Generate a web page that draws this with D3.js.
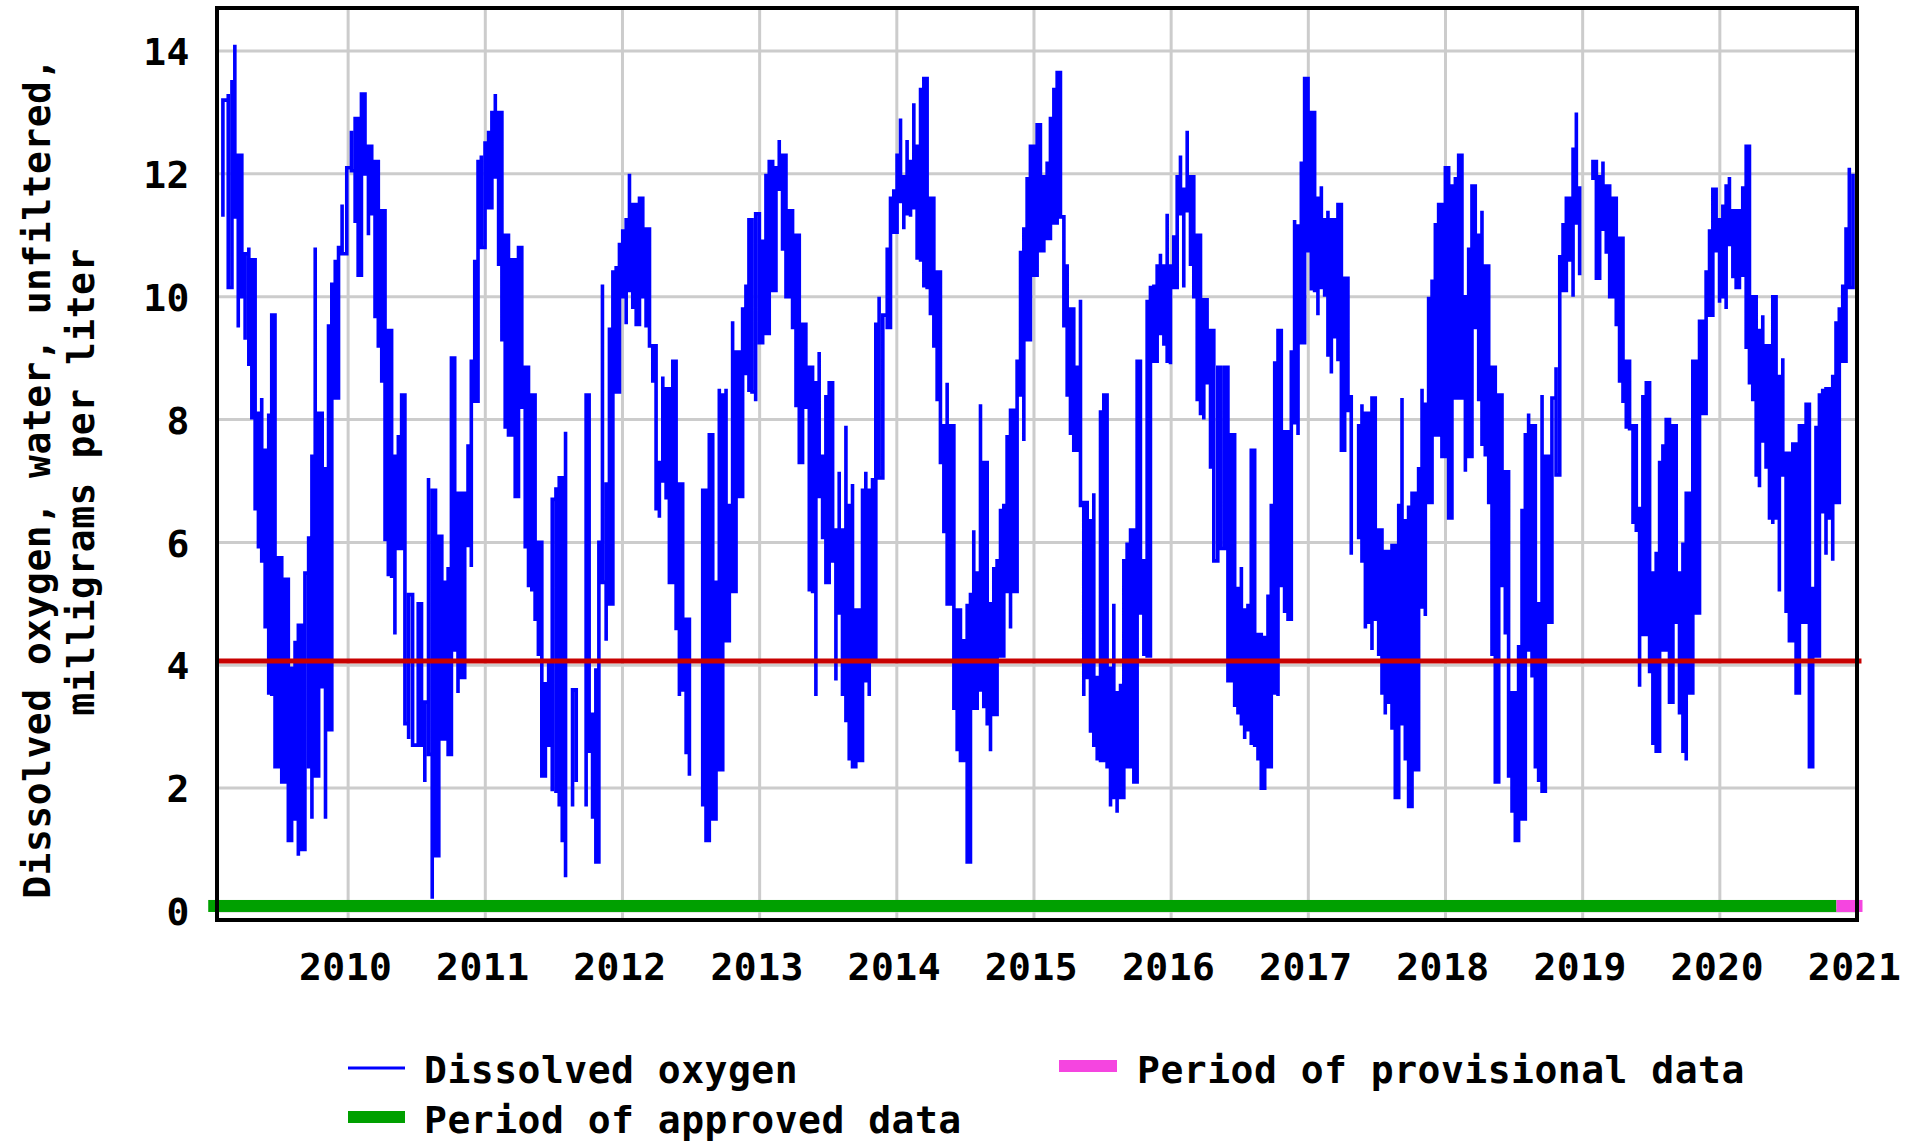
<!DOCTYPE html>
<html><head><meta charset="utf-8">
<script src="https://cdn.jsdelivr.net/npm/d3@7"></script>
<style>
html,body{margin:0;padding:0;background:#fff;}
svg{display:block;}
text{font-family:"DejaVu Sans Mono",monospace;font-weight:bold;fill:#000;}
</style></head><body>
<svg id="chart" width="1906" height="1144"></svg>
<script>
// ---------- data ----------
const yearTicks = [2010, 2011, 2012, 2013, 2014, 2015, 2016, 2017, 2018, 2019, 2020, 2021];
const valueTicks = [0, 2, 4, 6, 8, 10, 12, 14];
const timeDomain = [2009.044, 2021.0];
const valueDomain = [-0.147, 14.70];
const thresholdValue = 4.07;
const approvedPeriod = [2008.98, 2020.85];
const provisionalPeriod = [2020.85, 2021.04];
const yTitleLines = ["Dissolved oxygen, water, unfiltered,", "milligrams per liter"];
const legendLabels = ["Dissolved oxygen", "Period of approved data", "Period of provisional data"];

// [decimal year, min mg/L, max mg/L] per plotted column
const doSamples = [
[2009.087,11.3,13.2],[2009.126,10.15,13.3],[2009.153,10.7,13.5],[2009.174,11.3,14.1],[2009.199,9.5,12.3],[2009.225,10.0,12.3],[2009.249,9.3,10.7],[2009.276,8.9,10.8],[2009.298,8.0,10.6],[2009.322,6.55,9.55],[2009.346,5.9,8.1],[2009.370,5.7,8.35],[2009.395,4.6,7.5],[2009.421,3.55,8.1],[2009.443,3.5,9.7],[2009.467,2.35,9.45],[2009.492,2.35,5.75],[2009.516,2.1,4.15],[2009.540,2.1,5.4],[2009.564,1.15,4.15],[2009.588,1.4,3.95],[2009.613,1.5,4.4],[2009.637,0.9,4.65],[2009.661,1.0,4.4],[2009.685,1.6,5.5],[2009.712,2.35,6.1],[2009.736,1.5,7.4],[2009.760,2.2,10.8],[2009.785,2.35,8.1],[2009.811,3.65,8.0],[2009.835,1.5,7.2],[2009.857,2.95,9.55],[2009.881,8.2,10.2],[2009.906,8.35,10.6],[2009.930,9.65,10.8],[2009.956,10.7,11.5],[2009.990,10.9,12.1],
[2010.024,12.05,12.7],[2010.051,11.2,12.9],[2010.073,10.35,11.8],[2010.097,11.7,13.3],[2010.123,12.0,12.6],[2010.148,11.0,12.45],[2010.172,11.35,12.2],[2010.196,9.65,12.2],[2010.220,9.2,11.35],[2010.245,8.6,11.4],[2010.269,6.05,9.7],[2010.293,5.45,9.45],[2010.317,5.45,8.0],[2010.341,4.5,7.4],[2010.366,5.9,7.75],[2010.390,5.9,8.4],[2010.414,3.05,6.45],[2010.441,2.8,5.15],[2010.470,2.7,3.4],[2010.511,2.7,5.0],[2010.535,2.7,4.75],[2010.559,2.1,3.4],[2010.586,2.55,7.05],[2010.613,0.2,6.85],[2010.637,0.9,6.6],[2010.661,2.8,6.1],[2010.683,2.8,5.5],[2010.705,3.65,5.35],[2010.729,2.55,5.6],[2010.753,3.65,9.0],[2010.777,4.25,5.95],[2010.801,3.55,6.8],[2010.826,3.8,6.8],[2010.850,4.5,6.8],[2010.874,5.95,7.6],[2010.898,5.6,8.95],[2010.923,8.3,10.6],[2010.947,9.85,12.2],[2010.971,10.8,12.3],[2010.998,11.45,12.5],
[2011.024,11.45,12.7],[2011.048,11.9,13.0],[2011.073,11.95,13.3],[2011.097,10.5,13.0],[2011.121,9.3,11.0],[2011.145,7.85,11.0],[2011.169,7.75,10.4],[2011.194,9.55,10.6],[2011.218,6.75,9.8],[2011.242,7.15,10.8],[2011.266,8.2,10.1],[2011.291,5.9,8.85],[2011.315,5.3,7.05],[2011.339,5.2,8.4],[2011.363,4.75,7.4],[2011.387,4.15,6.0],[2011.412,2.2,4.15],[2011.438,2.3,3.7],[2011.462,2.7,4.1],[2011.488,1.95,6.7],[2011.515,1.95,6.9],[2011.539,1.7,7.05],[2011.561,1.15,6.1],[2011.585,0.55,7.8],[2011.636,1.7,3.6],[2011.663,2.1,3.1],[2011.735,1.7,8.4],[2011.757,2.6,4.3],[2011.782,1.5,3.2],[2011.806,0.8,3.95],[2011.828,2.2,6.0],[2011.854,5.35,10.2],[2011.881,4.4,6.95],[2011.905,5.0,9.5],[2011.930,9.05,10.4],[2011.954,8.45,10.5],[2011.978,9.5,10.85],
[2012.002,10.0,11.1],[2012.027,9.55,11.25],[2012.051,10.1,12.0],[2012.075,9.8,11.5],[2012.100,9.55,11.1],[2012.124,10.1,11.6],[2012.148,10.0,11.6],[2012.172,9.5,11.1],[2012.197,9.2,10.8],[2012.221,8.6,9.2],[2012.245,6.55,9.0],[2012.269,6.4,7.3],[2012.294,7.0,8.7],[2012.318,6.7,8.5],[2012.342,5.35,7.75],[2012.367,5.5,8.95],[2012.391,4.6,7.75],[2012.415,3.5,6.95],[2012.439,3.6,6.7],[2012.464,2.55,4.75],[2012.488,2.2,4.15],[2012.585,1.7,6.85],[2012.609,1.15,5.5],[2012.633,1.85,7.75],[2012.658,1.5,6.1],[2012.682,1.8,5.35],[2012.706,2.3,8.5],[2012.731,4.85,8.4],[2012.755,4.4,8.5],[2012.779,4.4,6.6],[2012.803,5.2,9.6],[2012.828,5.8,9.1],[2012.852,6.75,8.5],[2012.876,7.6,9.8],[2012.900,8.75,10.2],[2012.922,8.45,11.25],[2012.944,8.45,10.9],[2012.971,8.3,11.35],[2012.998,9.25,10.9],
[2013.022,9.4,10.9],[2013.046,9.4,12.0],[2013.070,10.95,12.2],[2013.095,10.1,11.8],[2013.119,10.6,12.1],[2013.143,11.75,12.55],[2013.167,10.75,12.3],[2013.192,10.0,11.5],[2013.216,10.0,11.4],[2013.240,9.5,11.25],[2013.265,8.2,11.0],[2013.289,7.3,9.2],[2013.313,7.3,9.55],[2013.337,8.2,9.2],[2013.362,5.2,8.85],[2013.386,5.2,8.4],[2013.410,3.5,8.6],[2013.434,6.75,9.1],[2013.459,6.05,7.4],[2013.483,5.35,8.4],[2013.507,6.5,8.6],[2013.532,5.7,8.0],[2013.556,3.75,6.2],[2013.580,4.85,7.15],[2013.604,3.5,6.2],[2013.629,3.1,7.9],[2013.653,2.45,6.6],[2013.677,2.35,6.95],[2013.701,2.7,4.9],[2013.726,2.45,4.9],[2013.750,3.2,6.85],[2013.774,3.75,7.15],[2013.799,3.5,6.85],[2013.823,4.1,7.05],[2013.847,5.95,9.55],[2013.871,7.05,10.0],[2013.898,7.4,9.7],[2013.930,9.5,10.8],[2013.954,9.5,11.6],[2013.978,11.05,11.75],
[2014.002,11.05,12.3],[2014.027,11.55,12.9],[2014.051,11.1,11.95],[2014.075,11.35,12.55],[2014.100,11.3,12.2],[2014.124,11.45,13.15],[2014.148,10.6,12.45],[2014.173,10.6,13.4],[2014.197,10.15,13.55],[2014.221,10.15,11.95],[2014.245,9.7,11.6],[2014.270,9.2,11.0],[2014.294,8.3,10.4],[2014.318,7.3,9.8],[2014.343,6.15,7.9],[2014.367,5.0,8.6],[2014.391,5.95,7.9],[2014.416,3.3,6.1],[2014.440,2.6,4.9],[2014.464,2.45,4.9],[2014.488,2.45,4.4],[2014.513,0.8,5.0],[2014.537,2.8,5.15],[2014.561,3.3,6.2],[2014.586,3.4,5.5],[2014.610,3.6,8.25],[2014.634,3.3,7.3],[2014.659,3.05,5.35],[2014.683,2.6,5.0],[2014.707,3.2,5.6],[2014.731,4.15,5.7],[2014.756,4.15,6.55],[2014.780,4.6,6.6],[2014.804,5.2,7.75],[2014.829,4.6,8.15],[2014.853,5.2,7.3],[2014.877,6.55,8.95],[2014.902,8.4,10.75],[2014.926,7.65,11.1],[2014.950,9.3,11.95],[2014.974,10.85,12.45],[2014.999,10.35,11.75],
[2015.023,10.35,12.8],[2015.047,10.75,12.1],[2015.072,10.75,11.95],[2015.096,10.95,12.2],[2015.120,11.2,12.9],[2015.145,11.2,13.4],[2015.169,11.95,13.65],[2015.193,11.3,11.75],[2015.218,9.5,10.5],[2015.242,8.4,10.4],[2015.266,7.75,9.8],[2015.290,7.5,9.45],[2015.315,7.75,8.85],[2015.339,6.6,9.95],[2015.363,3.5,6.65],[2015.388,3.8,5.5],[2015.412,2.9,6.35],[2015.436,2.7,6.8],[2015.461,2.45,3.8],[2015.485,2.45,8.15],[2015.509,5.8,8.4],[2015.533,2.35,6.45],[2015.558,1.7,3.95],[2015.582,1.85,5.0],[2015.606,1.6,3.55],[2015.631,1.85,3.7],[2015.655,2.35,5.7],[2015.679,2.35,6.0],[2015.704,2.35,6.2],[2015.728,2.1,4.5],[2015.752,2.35,8.95],[2015.776,4.85,8.85],[2015.801,4.15,5.7],[2015.825,4.15,9.95],[2015.849,8.1,10.15],[2015.874,8.95,10.2],[2015.898,9.55,10.5],[2015.922,9.4,10.7],[2015.947,9.2,10.5],[2015.971,8.95,11.35],[2015.995,8.9,10.5],
[2016.019,10.15,11.0],[2016.044,11.0,11.95],[2016.068,11.35,12.3],[2016.092,10.15,11.75],[2016.117,11.4,12.7],[2016.141,10.5,11.95],[2016.165,10.0,11.1],[2016.190,8.3,11.0],[2016.214,8.1,10.4],[2016.238,8.0,9.95],[2016.262,8.6,9.7],[2016.287,7.2,9.45],[2016.311,5.7,8.85],[2016.340,5.8,8.85],[2016.363,5.9,8.25],[2016.390,6.15,8.85],[2016.414,3.75,7.2],[2016.439,4.35,7.75],[2016.463,3.35,5.35],[2016.487,3.2,5.25],[2016.512,3.05,5.6],[2016.536,2.8,4.9],[2016.560,2.95,5.0],[2016.584,2.7,7.5],[2016.609,2.7,7.5],[2016.633,2.45,4.5],[2016.657,2.0,4.45],[2016.682,2.1,4.45],[2016.706,2.35,5.15],[2016.730,2.35,6.6],[2016.755,3.55,8.95],[2016.779,3.5,9.45],[2016.803,5.3,7.9],[2016.827,4.85,7.8],[2016.852,4.75,7.5],[2016.876,5.95,9.1],[2016.900,7.95,11.25],[2016.925,7.75,11.15],[2016.949,9.25,12.2],[2016.973,9.8,13.55],[2016.998,10.75,12.2],
[2017.022,10.1,13.0],[2017.046,10.1,12.2],[2017.070,9.7,11.6],[2017.095,10.15,11.8],[2017.119,10.0,11.25],[2017.143,9.05,11.4],[2017.168,8.75,11.25],[2017.192,9.35,11.0],[2017.216,8.95,11.5],[2017.241,7.5,10.2],[2017.265,8.35,10.3],[2017.289,8.15,9.6],[2017.313,5.8,8.4],[2017.367,6.05,7.9],[2017.391,5.7,8.25],[2017.416,4.6,8.1],[2017.440,4.7,7.75],[2017.464,4.25,8.35],[2017.488,4.75,7.4],[2017.513,4.15,6.2],[2017.537,3.55,5.75],[2017.561,3.2,5.85],[2017.586,3.4,5.85],[2017.610,2.95,5.95],[2017.634,1.85,5.95],[2017.659,2.95,6.6],[2017.683,3.05,8.35],[2017.707,2.45,6.35],[2017.731,1.7,6.6],[2017.756,1.7,6.8],[2017.780,2.3,5.85],[2017.804,4.0,7.2],[2017.829,4.95,8.5],[2017.853,4.8,8.25],[2017.877,6.65,10.0],[2017.902,7.15,10.25],[2017.926,7.75,11.2],[2017.950,8.75,11.5],[2017.974,7.4,11.5],[2017.999,9.05,12.1],
[2018.023,6.4,12.1],[2018.047,9.2,11.8],[2018.072,8.35,11.95],[2018.096,10.95,12.3],[2018.120,8.35,11.35],[2018.145,7.15,10.0],[2018.169,7.4,10.8],[2018.193,9.5,11.8],[2018.217,9.5,11.5],[2018.242,8.3,11.0],[2018.266,7.6,11.4],[2018.290,7.4,10.5],[2018.315,6.65,9.8],[2018.339,4.15,8.85],[2018.363,2.1,8.5],[2018.388,5.2,8.4],[2018.412,5.3,7.6],[2018.436,4.5,7.15],[2018.460,2.2,4.5],[2018.485,1.6,3.55],[2018.509,1.15,3.55],[2018.533,1.6,4.3],[2018.558,1.5,6.55],[2018.582,2.2,7.75],[2018.606,4.25,8.1],[2018.631,3.8,7.9],[2018.655,2.35,5.35],[2018.679,2.1,5.0],[2018.704,1.95,8.4],[2018.728,4.95,7.4],[2018.752,4.7,7.2],[2018.776,4.7,8.35],[2018.806,7.1,8.85],[2018.833,8.35,10.65],[2018.857,10.1,11.2],[2018.881,10.1,11.6],[2018.905,10.6,11.5],[2018.930,10.0,12.4],[2018.954,11.2,13.0],[2018.978,10.35,11.8],
[2019.075,11.9,12.2],[2019.100,10.3,12.2],[2019.124,10.5,11.95],[2019.148,11.1,12.2],[2019.172,10.7,11.8],[2019.197,10.0,11.35],[2019.221,10.0,11.6],[2019.245,9.55,11.5],[2019.269,8.6,10.95],[2019.294,8.3,9.8],[2019.318,7.85,8.95],[2019.342,7.85,8.7],[2019.367,6.3,7.9],[2019.391,6.2,7.5],[2019.415,3.65,6.55],[2019.439,4.5,8.4],[2019.464,5.3,8.6],[2019.488,3.9,7.5],[2019.512,2.7,5.5],[2019.536,2.6,5.85],[2019.561,2.95,7.3],[2019.585,4.25,7.6],[2019.609,4.25,8.0],[2019.633,3.4,8.0],[2019.658,4.7,7.9],[2019.682,4.7,6.45],[2019.706,3.2,5.5],[2019.731,2.6,6.0],[2019.755,2.45,6.8],[2019.779,3.55,5.15],[2019.803,4.25,8.95],[2019.828,4.85,8.5],[2019.852,5.95,9.6],[2019.876,8.1,9.6],[2019.900,9.25,10.4],[2019.925,9.7,11.1],[2019.949,9.9,11.75],[2019.973,10.75,11.6],[2019.998,9.9,11.25],
[2020.022,10.0,11.5],[2020.046,9.8,11.8],[2020.070,10.85,11.95],[2020.095,10.3,11.4],[2020.119,10.15,10.9],[2020.143,10.3,11.4],[2020.167,10.35,11.8],[2020.192,9.15,12.45],[2020.216,8.6,10.9],[2020.240,8.3,10.0],[2020.265,7.1,9.6],[2020.289,6.9,9.45],[2020.313,7.65,9.7],[2020.337,7.2,9.2],[2020.362,6.4,8.35],[2020.386,6.3,10.0],[2020.410,6.4,8.85],[2020.434,5.2,8.7],[2020.459,7.1,9.0],[2020.483,4.85,7.45],[2020.507,4.4,6.35],[2020.532,4.7,7.6],[2020.556,3.55,7.6],[2020.580,3.8,7.9],[2020.604,4.7,7.6],[2020.629,4.8,8.25],[2020.653,2.35,7.5],[2020.677,2.95,5.25],[2020.701,4.15,7.9],[2020.726,6.65,8.4],[2020.750,6.5,8.5],[2020.774,5.8,8.5],[2020.799,6.4,8.0],[2020.823,5.7,8.7],[2020.847,6.65,9.6],[2020.871,8.7,9.8],[2020.896,8.95,10.2],[2020.920,9.9,11.1],[2020.944,10.15,12.1],[2020.971,10.7,12.0]
];

// ---------- layout ----------
const W = 1906, H = 1144;
const plot = {left: 217, right: 1857, top: 8, bottom: 920};
const svg = d3.select('#chart');
svg.append('rect').attr('width', W).attr('height', H).attr('fill', '#fff');

const x = d3.scaleLinear().domain(timeDomain).range([plot.left, plot.right]);
const y = d3.scaleLinear().domain(valueDomain).range([plot.bottom, plot.top]);

// gridlines
const grid = svg.append('g').attr('stroke', '#cccccc').attr('stroke-width', 3);
grid.selectAll('line.h').data(valueTicks).join('line').attr('class', 'h')
  .attr('x1', plot.left).attr('x2', plot.right)
  .attr('y1', d => y(d)).attr('y2', d => y(d));
grid.selectAll('line.v').data(yearTicks.filter(d => x(d) < plot.right - 2)).join('line').attr('class', 'v')
  .attr('x1', d => x(d)).attr('x2', d => x(d))
  .attr('y1', plot.top).attr('y2', plot.bottom);

// data line (min-max per column, stepped)
const segments = [];
let cur = [];
doSamples.forEach(d => {
  if (cur.length && d[0] - cur[cur.length - 1][0] > 0.048) { segments.push(cur); cur = []; }
  cur.push(d);
});
if (cur.length) segments.push(cur);
const lineGen = d3.line().x(p => x(p[0])).y(p => y(p[1])).curve(d3.curveStepAfter);
const dataG = svg.append('g');
segments.forEach(seg => {
  const pts = [];
  seg.forEach((d, i) => {
    if (i % 2 === 0) { pts.push([d[0], d[1]], [d[0], d[2]]); }
    else { pts.push([d[0], d[2]], [d[0], d[1]]); }
  });
  dataG.append('path').attr('d', lineGen(pts))
    .attr('fill', 'none').attr('stroke', '#0000ff').attr('stroke-width', 3.6)
    .attr('stroke-linejoin', 'miter').attr('stroke-linecap', 'butt');
});

// threshold line
svg.append('line')
  .attr('x1', x(timeDomain[0])).attr('x2', x(provisionalPeriod[1]) - 1)
  .attr('y1', y(thresholdValue)).attr('y2', y(thresholdValue))
  .attr('stroke', '#c80000').attr('stroke-width', 5);

// approval bars
const barY = y(0) - 5;
svg.append('rect').attr('x', x(approvedPeriod[0])).attr('width', x(approvedPeriod[1]) - x(approvedPeriod[0]))
  .attr('y', barY - 6).attr('height', 12).attr('fill', '#00a000');
svg.append('rect').attr('x', x(provisionalPeriod[0])).attr('width', x(provisionalPeriod[1]) - x(provisionalPeriod[0]))
  .attr('y', barY - 6).attr('height', 12).attr('fill', '#f545e0');

// frame
svg.append('rect').attr('x', plot.left).attr('y', plot.top)
  .attr('width', plot.right - plot.left).attr('height', plot.bottom - plot.top)
  .attr('fill', 'none').attr('stroke', '#000').attr('stroke-width', 4);

// axes (labels only)
const yAxis = d3.axisLeft(y).tickValues(valueTicks).tickSize(0).tickPadding(0).tickFormat(d3.format('d'));
const yAx = svg.append('g').attr('transform', `translate(190,0)`).call(yAxis);
yAx.select('.domain').remove();
yAx.selectAll('text').attr('font-size', 38).attr('font-family', '"DejaVu Sans Mono",monospace')
  .attr('font-weight', 'bold').attr('dy', '0.36em').attr('letter-spacing', 0.5).attr('x', 0);

const xAxis = d3.axisBottom(x).tickValues(yearTicks).tickSize(0).tickPadding(0).tickFormat(d3.format('d'));
const xAx = svg.append('g').attr('transform', `translate(-3,${plot.bottom})`).call(xAxis);
xAx.select('.domain').remove();
xAx.selectAll('text').attr('font-size', 38).attr('font-family', '"DejaVu Sans Mono",monospace')
  .attr('font-weight', 'bold').attr('dy', null).attr('y', 60).attr('letter-spacing', 0.5);

// y title
const tx = [36, 80], ty = [478, 482];
yTitleLines.forEach((t, i) => {
  svg.append('text').attr('transform', `translate(${tx[i]},${ty[i]}) rotate(-90)`)
    .attr('text-anchor', 'middle').attr('dy', '0.36em')
    .attr('font-size', 38).attr('letter-spacing', 0.5).text(t);
});

// legend
const lg = svg.append('g');
lg.append('line').attr('x1', 348).attr('x2', 405).attr('y1', 1068).attr('y2', 1068)
  .attr('stroke', '#0000ff').attr('stroke-width', 3);
lg.append('text').attr('x', 424).attr('y', 1069).attr('dy', '0.36em').attr('font-size', 38).attr('letter-spacing', 0.5).text(legendLabels[0]);
lg.append('rect').attr('x', 348).attr('y', 1111).attr('width', 57).attr('height', 12).attr('fill', '#00a000');
lg.append('text').attr('x', 424).attr('y', 1119).attr('dy', '0.36em').attr('font-size', 38).attr('letter-spacing', 0.5).text(legendLabels[1]);
lg.append('rect').attr('x', 1059).attr('y', 1060).attr('width', 58).attr('height', 12).attr('fill', '#f545e0');
lg.append('text').attr('x', 1137).attr('y', 1069).attr('dy', '0.36em').attr('font-size', 38).attr('letter-spacing', 0.5).text(legendLabels[2]);
</script>
</body></html>
